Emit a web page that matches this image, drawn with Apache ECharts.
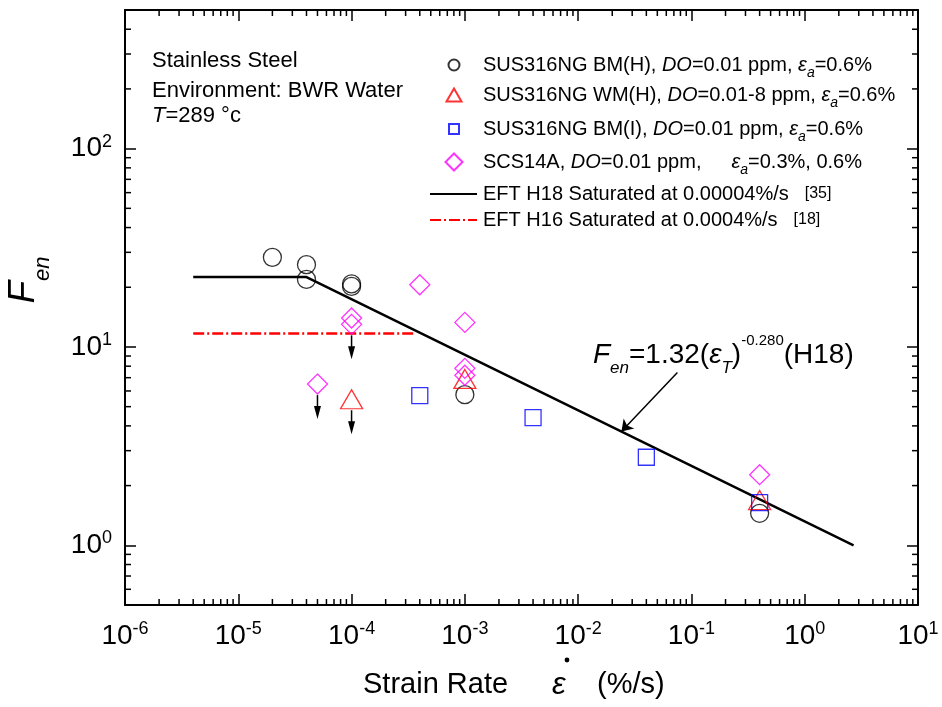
<!DOCTYPE html>
<html>
<head>
<meta charset="utf-8">
<script src="https://cdn.jsdelivr.net/npm/echarts@6/dist/echarts.min.js"></script>
<style>
  html, body { margin: 0; padding: 0; background: #fff; }
  #chart { width: 942px; height: 707px; }
</style>
</head>
<body>
<div id="chart"></div>
<script>
// Environmental fatigue correction factor F_en against strain rate,
// stainless steels in BWR water at 289 °C.

// SUS316NG base metal (H)
const bmH_rate = [2e-5, 4e-5, 4e-5, 1e-4, 1e-4, 1e-3, 0.4];
const bmH_fen  = [28.3, 26.0, 21.9, 20.8, 20.2, 5.75, 1.45];
// SUS316NG weld metal (H)
const wmH_rate = [1e-4, 1e-3, 0.4];
const wmH_fen  = [5.45, 6.9, 1.69];
// SUS316NG base metal (I)
const bmI_rate = [4e-4, 4e-3, 0.04, 0.4];
const bmI_fen  = [5.68, 4.4, 2.78, 1.64];
// SCS14A cast stainless
const scs_rate = [5e-5, 1e-4, 1e-4, 4e-4, 1e-3, 1e-3, 1e-3, 0.4];
const scs_fen  = [6.5, 14.0, 13.0, 20.6, 13.3, 7.8, 7.2, 2.27];
// EFT H18 model, saturated at 0.00004 %/s
const h18_rate = [4e-6, 4e-5, 2.7];
const h18_fen  = [22.5, 22.5, 1.0];
// EFT H16 model, saturated at 0.0004 %/s
const h16_rate = [4e-6, 3.6e-4];
const h16_fen  = [11.7, 11.7];
// tests that did not fail (arrow pointing down)
const runout_rate = [1e-4, 5e-5, 1e-4];
const runout_fen  = [13.0, 6.5, 5.45];
// arrow pointing at the H18 curve: from label to the curve
const annoFrom = [0.0752, 7.43];
const annoTo   = [0.0241, 3.75];

// axis ranges and tick values
const xMin = 1e-6, xMax = 10;
const yMin = 0.5, yMax = 500;
const xMinorTicks = [];
for (let e = -6; e <= 0; e++) for (let m = 2; m <= 9; m++) xMinorTicks.push(+(m * Math.pow(10, e)).toPrecision(3));
const yMinorTicks = [0.6, 0.7, 0.8, 0.9, 2, 3, 4, 5, 6, 7, 8, 9, 20, 30, 40, 50, 60, 70, 80, 90, 200, 300, 400];

const FONT = '"Liberation Sans", Arial, sans-serif';

const names = {
  bmH: 'SUS316NG BM(H), DO=0.01 ppm, εa=0.6%',
  wmH: 'SUS316NG WM(H), DO=0.01-8 ppm, εa=0.6%',
  bmI: 'SUS316NG BM(I), DO=0.01 ppm, εa=0.6%',
  scs: 'SCS14A, DO=0.01 ppm, εa=0.3%, 0.6%',
  h18: 'EFT H18 Saturated at 0.00004%/s [35]',
  h16: 'EFT H16 Saturated at 0.0004%/s [18]'
};
const richNames = {};
richNames[names.bmH] = 'SUS316NG BM(H), {i|DO}=0.01 ppm, {e|ε}{sub|a}=0.6%';
richNames[names.wmH] = 'SUS316NG WM(H), {i|DO}=0.01-8 ppm, {e|ε}{sub|a}=0.6%';
richNames[names.bmI] = 'SUS316NG BM(I), {i|DO}=0.01 ppm, {e|ε}{sub|a}=0.6%';
richNames[names.scs] = 'SCS14A, {i|DO}=0.01 ppm,{gap|}{e|ε}{sub|a}=0.3%, 0.6%';
richNames[names.h18] = 'EFT H18 Saturated at 0.00004%/s{g|}{ref|[35]}';
richNames[names.h16] = 'EFT H16 Saturated at 0.0004%/s{g|}{ref|[18]}';

const legendRich = {
  i:   { fontFamily: FONT, fontSize: 20, fontStyle: 'italic', lineHeight: 30, color: '#000' },
  e:   { fontFamily: FONT, fontSize: 20, fontStyle: 'italic', lineHeight: 30, color: '#000' },
  sub: { fontFamily: FONT, fontSize: 14, fontStyle: 'italic', lineHeight: 14, verticalAlign: 'bottom', color: '#000' },
  gap: { width: 30 },
  g:   { width: 16 },
  ref: { fontFamily: FONT, fontSize: 16, lineHeight: 30, color: '#000' }
};

// symbol centre and text start of the legend rows
const LEG_ICON_CX = 453, LEG_TEXT_X = 482;

function makeLegend(name, top, iconW, iconH, isLine) {
  const left = isLine ? 429 : LEG_ICON_CX - iconW / 2;
  const pad = LEG_TEXT_X - (left + iconW + 5);
  const lg = {
    data: [name],
    left: left, top: top, padding: 0,
    orient: 'vertical',
    itemWidth: iconW, itemHeight: iconH,
    selectedMode: false,
    formatter: n => richNames[n],
    textStyle: { fontFamily: FONT, fontSize: 20, lineHeight: 30, color: '#000',
      padding: [0, 0, 0, Math.max(0, pad)], rich: legendRich }
  };
  if (isLine) lg.itemStyle = { opacity: 0 };
  return lg;
}

const zip = (xs, ys) => xs.map((x, i) => [x, ys[i]]);

function supLabel(v) {
  const e = Math.log10(v);
  if (Math.abs(e - Math.round(e)) > 1e-6) return '';
  return '10{sup|' + Math.round(e) + '}';
}
const tickRich = { sup: { fontFamily: FONT, fontSize: 18, lineHeight: 18, verticalAlign: 'top', color: '#000' } };

const axisLineStyle = { color: '#000', width: 2 };

function hollow(color) {
  return { color: 'rgba(0,0,0,0)', borderColor: color, borderWidth: 1.3 };
}

// minor tick marks on both opposite edges of the plot frame
function renderXMinor(params, api) {
  const cs = params.coordSys;
  const x = api.coord([api.value(0), 1])[0];
  const b = cs.y + cs.height;
  return { type: 'group', children: [
    { type: 'line', shape: { x1: x, y1: b, x2: x, y2: b - 6 }, style: { stroke: '#000', lineWidth: 1.5 } },
    { type: 'line', shape: { x1: x, y1: cs.y, x2: x, y2: cs.y + 6 }, style: { stroke: '#000', lineWidth: 1.5 } }
  ]};
}
function renderYMinor(params, api) {
  const cs = params.coordSys;
  const y = api.coord([1e-3, api.value(1)])[1];
  const r = cs.x + cs.width;
  return { type: 'group', children: [
    { type: 'line', shape: { x1: cs.x, y1: y, x2: cs.x + 6, y2: y }, style: { stroke: '#000', lineWidth: 1.5 } },
    { type: 'line', shape: { x1: r, y1: y, x2: r - 6, y2: y }, style: { stroke: '#000', lineWidth: 1.5 } }
  ]};
}
// downward arrow below a run-out point
function renderArrow(params, api) {
  const p = api.coord([api.value(0), api.value(1)]);
  const x = p[0], y0 = p[1] + 11;
  return { type: 'group', children: [
    { type: 'line', shape: { x1: x, y1: y0, x2: x, y2: y0 + 14 }, style: { stroke: '#000', lineWidth: 1.5 } },
    { type: 'polygon', shape: { points: [[x - 3.5, y0 + 11], [x + 3.5, y0 + 11], [x, y0 + 24]] }, style: { fill: '#000' } }
  ]};
}

const chart = echarts.init(document.getElementById('chart'), null, { renderer: 'canvas' });

chart.setOption({
  animation: false,
  backgroundColor: '#fff',
  textStyle: { fontFamily: FONT },
  grid: { left: 125, right: 24, top: 10, bottom: 102 },
  xAxis: [{
    type: 'log', logBase: 10, min: xMin, max: xMax, position: 'bottom',
    axisLine: { show: true, onZero: false, lineStyle: axisLineStyle },
    axisTick: { show: true, inside: true, length: 11, lineStyle: { color: '#000', width: 1.5 } },
    axisLabel: { formatter: supLabel, fontFamily: FONT, fontSize: 28, lineHeight: 32, color: '#000', margin: 15, rich: tickRich },
    splitLine: { show: false }
  }, {
    type: 'log', logBase: 10, min: xMin, max: xMax, position: 'top',
    axisLine: { show: true, onZero: false, lineStyle: axisLineStyle },
    axisTick: { show: true, inside: true, length: 11, lineStyle: { color: '#000', width: 1.5 } },
    axisLabel: { show: false }, splitLine: { show: false }
  }],
  yAxis: [{
    type: 'log', logBase: 10, min: yMin, max: yMax, position: 'left',
    axisLine: { show: true, onZero: false, lineStyle: axisLineStyle },
    axisTick: { show: true, inside: true, length: 11, lineStyle: { color: '#000', width: 1.5 } },
    axisLabel: { formatter: supLabel, fontFamily: FONT, fontSize: 28, lineHeight: 32, color: '#000', margin: 13, rich: tickRich },
    splitLine: { show: false }
  }, {
    type: 'log', logBase: 10, min: yMin, max: yMax, position: 'right',
    axisLine: { show: true, onZero: false, lineStyle: axisLineStyle },
    axisTick: { show: true, inside: true, length: 11, lineStyle: { color: '#000', width: 1.5 } },
    axisLabel: { show: false }, splitLine: { show: false }
  }],
  legend: [
    makeLegend(names.bmH, 50, 11, 11, false),
    makeLegend(names.wmH, 80, 15, 13, false),
    makeLegend(names.bmI, 114, 10, 10, false),
    makeLegend(names.scs, 147, 17, 17, false),
    makeLegend(names.h18, 179, 47, 14, true),
    makeLegend(names.h16, 205, 47, 14, true)
  ],
  series: [
    { type: 'custom', name: 'xMinor', xAxisIndex: 0, yAxisIndex: 0, silent: true, clip: false,
      data: xMinorTicks.map(v => [v, 1]), renderItem: renderXMinor },
    { type: 'custom', name: 'yMinor', xAxisIndex: 0, yAxisIndex: 0, silent: true, clip: false,
      data: yMinorTicks.map(v => [1e-3, v]), renderItem: renderYMinor },
    { type: 'line', name: names.h18, data: zip(h18_rate, h18_fen), symbol: 'none',
      lineStyle: { color: '#000', width: 2.5 }, itemStyle: { color: '#000' }, z: 3,
      markLine: {
        silent: true, symbol: ['none', 'arrow'], symbolSize: 11,
        lineStyle: { color: '#000', width: 1.5, type: 'solid' }, label: { show: false },
        data: [[{ coord: annoFrom }, { coord: annoTo }]]
      } },
    { type: 'line', name: names.h16, data: zip(h16_rate, h16_fen), symbol: 'none',
      lineStyle: { color: '#ff0000', width: 2.5, type: [11, 3, 2, 3] }, itemStyle: { color: '#ff0000' }, z: 3 },
    { type: 'scatter', name: names.bmH, data: zip(bmH_rate, bmH_fen), symbol: 'circle', symbolSize: 18,
      itemStyle: hollow('#000'), z: 4 },
    { type: 'scatter', name: names.wmH, data: zip(wmH_rate, wmH_fen), symbol: 'triangle', symbolSize: [22, 19],
      itemStyle: hollow('#ff0000'), z: 4 },
    { type: 'scatter', name: names.bmI, data: zip(bmI_rate, bmI_fen), symbol: 'rect', symbolSize: 16,
      itemStyle: hollow('#0000ff'), z: 4 },
    { type: 'scatter', name: names.scs, data: zip(scs_rate, scs_fen), symbol: 'diamond', symbolSize: 20,
      itemStyle: hollow('#ff00ff'), z: 4 },
    { type: 'custom', name: 'runout', silent: true, data: zip(runout_rate, runout_fen), renderItem: renderArrow, z: 5 }
  ],
  graphic: [
    { type: 'text', x: 152, y: 61, silent: true,
      style: { text: 'Stainless Steel', fontFamily: FONT, fontSize: 22, fill: '#000', verticalAlign: 'middle' } },
    { type: 'text', x: 152, y: 91, silent: true,
      style: { text: 'Environment: BWR Water', fontFamily: FONT, fontSize: 22, fill: '#000', verticalAlign: 'middle' } },
    { type: 'text', x: 152, y: 116, silent: true,
      style: { text: '{i|T}=289 °c', fontFamily: FONT, fontSize: 22, fill: '#000', verticalAlign: 'middle',
        rich: { i: { fontFamily: FONT, fontSize: 22, fontStyle: 'italic', fill: '#000' } } } },
    // axis title of the ordinate
    { type: 'text', x: 24, y: 280, rotation: Math.PI / 2, silent: true,
      style: { text: '{f|F}{s|en}', align: 'center', verticalAlign: 'middle',
        rich: {
          f: { fontFamily: FONT, fontSize: 37, fontStyle: 'italic', lineHeight: 60, fill: '#000' },
          s: { fontFamily: FONT, fontSize: 22, fontStyle: 'italic', lineHeight: 22, verticalAlign: 'bottom', fill: '#000' }
        } } },
    // axis title of the abscissa: strain rate with dot-accented epsilon
    { type: 'group', silent: true, children: [
      { type: 'text', x: 363, y: 685,
        style: { text: 'Strain Rate', fontFamily: FONT, fontSize: 29, fill: '#000', verticalAlign: 'middle' } },
      { type: 'text', x: 552, y: 685,
        style: { text: 'ε', fontFamily: FONT, fontSize: 31, fontStyle: 'italic', fill: '#000', verticalAlign: 'middle' } },
      { type: 'circle', shape: { cx: 567, cy: 660, r: 2.4 }, style: { fill: '#000' } },
      { type: 'text', x: 597, y: 685,
        style: { text: '(%/s)', fontFamily: FONT, fontSize: 29, fill: '#000', verticalAlign: 'middle' } }
    ] },
    // fitted-curve label
    { type: 'text', x: 593, y: 355, silent: true,
      style: { text: '{f|F}{s|en}{n|=1.32(}{e|ε}{s|T}{n|)}{p|-0.280}{n|(H18)}', verticalAlign: 'middle',
        rich: {
          f: { fontFamily: FONT, fontSize: 28, fontStyle: 'italic', lineHeight: 44, fill: '#000' },
          n: { fontFamily: FONT, fontSize: 28, lineHeight: 44, fill: '#000' },
          e: { fontFamily: FONT, fontSize: 28, fontStyle: 'italic', lineHeight: 44, fill: '#000' },
          s: { fontFamily: FONT, fontSize: 17, fontStyle: 'italic', lineHeight: 17, verticalAlign: 'bottom', fill: '#000' },
          p: { fontFamily: FONT, fontSize: 15, lineHeight: 15, verticalAlign: 'top', fill: '#000' }
        } } }
  ]
});
</script>
</body>
</html>
